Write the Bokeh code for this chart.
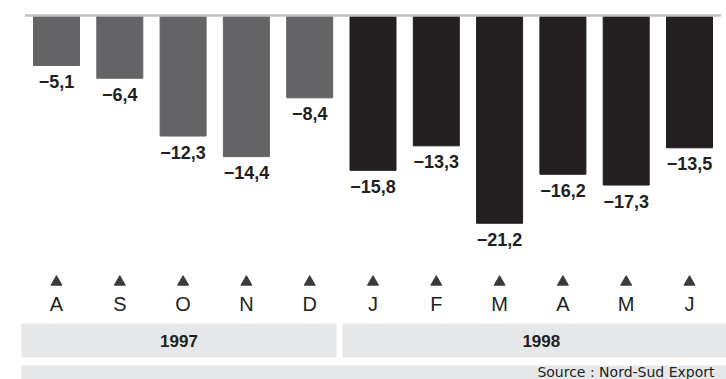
from bokeh.plotting import figure
from bokeh.models import Range1d
from bokeh.core.properties import value
from bokeh.embed import file_html
from bokeh.resources import INLINE

# ---- data ----
months = ["A", "S", "O", "N", "D", "J", "F", "M", "A", "M", "J"]
years = ["1997"] * 5 + ["1998"] * 6
balance = [-5.1, -6.4, -12.3, -14.4, -8.4, -15.8, -13.3, -21.2, -16.2, -17.3, -13.5]
year_labels = ["1997", "1998"]
source_note = "Source : Nord-Sud Export"

# ---- layout helpers ----
PX = 9.8          # pixels per unit of value
STEP = 63.3       # pixels between bar centres
X0 = 56           # pixel of first bar centre
W, H = 726, 379
TOP = 15          # pixel row of the zero line


def ry(ref_y):
    """vertical position (value units) of a pixel row of the picture"""
    return -(ref_y - TOP) / PX


idx = list(range(len(months)))
year_color = {"1997": "#646365", "1998": "#231f20"}
colors = [year_color[y] for y in years]
labels = ["\u2212" + f"{abs(v):.1f}".replace(".", ",") for v in balance]

p = figure(width=W, height=H, output_backend="svg", toolbar_location=None,
           x_range=Range1d(-X0 / STEP, (W - X0) / STEP),
           y_range=Range1d(-(H - TOP) / PX, TOP / PX),
           x_axis_location=None, y_axis_location=None,
           min_border=0, outline_line_color=None)
p.grid.visible = False
p.background_fill_color = "white"
p.border_fill_color = "white"

# bars
p.vbar(x=idx, top=0, bottom=balance, width=46 / STEP, color=colors)
# zero line
p.segment(x0=[idx[0] - 0.5], y0=[0], x1=[idx[-1] + 0.5], y1=[0],
          line_color="#c3c3c7", line_width=2.5)
# value labels
p.text(x=idx, y=balance, text=labels, text_align="center", text_baseline="alphabetic",
       y_offset=16, text_font=value("Liberation Sans"), text_font_style="bold",
       text_font_size="18px", text_color="#231f20")

# month markers
p.scatter(x=idx, y=[ry(281.5)] * len(idx), marker="triangle", size=11,
          color="#3a3a3a")
p.text(x=idx, y=[ry(303)] * len(idx), text=months, text_align="center",
       text_baseline="alphabetic", text_font=value("Liberation Sans"),
       text_font_size="20px", text_color="#231f20")

# year bands
band_left, band_right = [], []
for k, yl in enumerate(year_labels):
    members = [i for i, y in enumerate(years) if y == yl]
    left = members[0] - (0.553 if k == 0 else 0.482)
    right = members[-1] + (0.423 if k < len(year_labels) - 1 else 0.8)
    band_left.append(left)
    band_right.append(right)
p.quad(left=band_left, right=band_right, top=ry(323), bottom=ry(357),
       color="#e6e7e8", line_color=None)
p.text(x=[(a + b) / 2 for a, b in zip(band_left, band_right)], y=ry(340),
       text=year_labels, text_align="center", text_baseline="middle",
       text_font=value("Liberation Sans"), text_font_style="bold",
       text_font_size="17px", text_color="#231f20")

# source band
p.quad(left=[band_left[0]], right=[band_right[-1]], top=ry(365), bottom=ry(400),
       color="#e6e7e8", line_color=None)
p.text(x=[(714 - X0) / STEP], y=[ry(371.5)], text=[source_note], text_align="right",
       text_baseline="alphabetic", text_font=value("DejaVu Sans"),
       text_font_size="14px", text_color="#231f20")

open("out.html", "w").write(file_html(p, INLINE))
